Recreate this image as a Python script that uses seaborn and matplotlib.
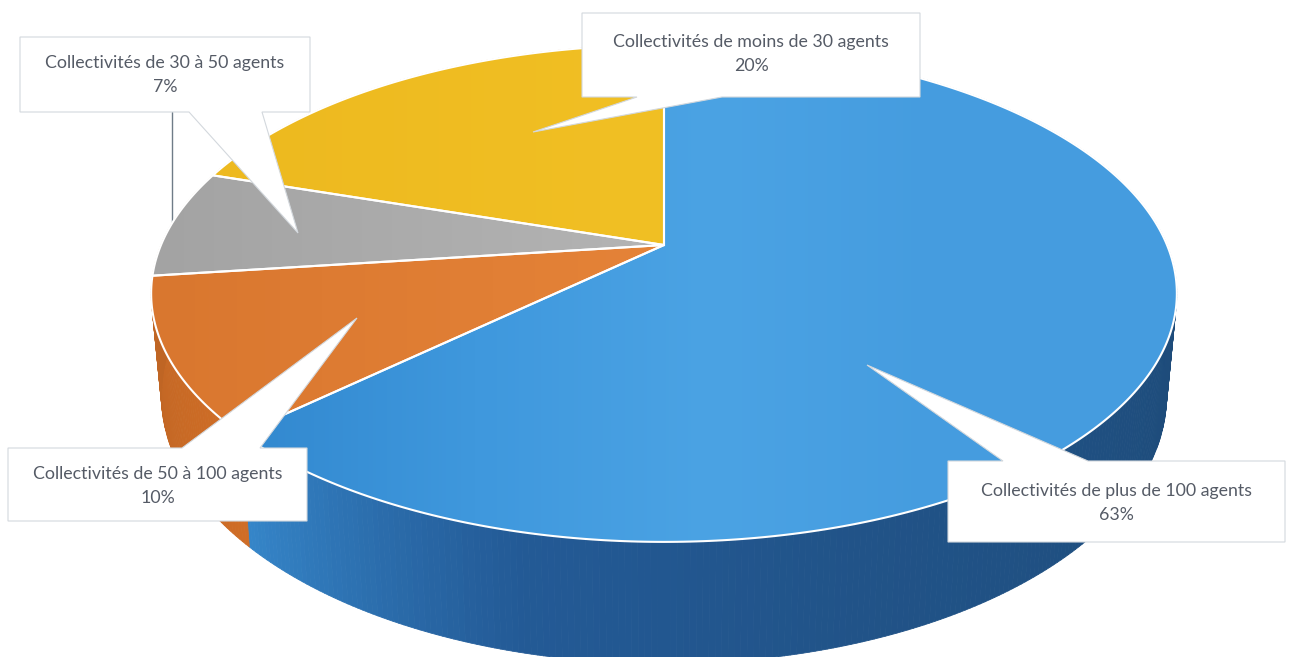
import numpy as np
import matplotlib
matplotlib.use("Agg")
import matplotlib.pyplot as plt
from matplotlib.collections import PolyCollection
from matplotlib.patches import Polygon
import seaborn as sns

categories = ["Collectivités de plus de 100 agents", "Collectivités de 50 à 100 agents",
              "Collectivités de 30 à 50 agents", "Collectivités de moins de 30 agents"]
values = [63, 10, 7, 20]

# top colours (left to right) and side colours (clockwise) for each slice
top_colors = [["#3288cf", "#3f98dd", "#4ba3e4", "#459cdf", "#459cdf"],
              ["#d9772f", "#e58338"],
              ["#a3a3a3", "#b4b4b4"],
              ["#edb91f", "#f1c024"]]
side_colors = [["#1d4a78", "#1d4a78", "#1d4a78", "#1d4a78", "#1f4f80", "#215388", "#235a96", "#3585c8"],
               ["#cf6d26", "#bf6524"],
               ["#bf6524", "#bf6524"],
               ["#bf6524", "#bf6524"]]

# box = left, top, right, bottom / pointer = tip, then the two points on the box edge
boxes = [(948, 461, 1285, 542), (8, 448, 307, 521), (20, 37, 310, 112), (582, 13, 920, 97)]
pointers = [((867, 365), 1003, 1088), ((357, 318), 182, 260), ((298, 233), 189, 262), ((533, 132), 637, 722)]
text_y = [503, 486, 75, 54]

sns.set_theme(style="white")
plt.rcParams["font.family"] = ["Lato", "DejaVu Sans"]

# perspective of the disc
cx, cy = 664, 245
A, B, k = 239, 503, 0.195
depth, shrink = 98, 0.98


def project(theta):
    u, v = np.sin(theta), np.cos(theta)
    w = 1 + k * v
    return cx + B * u / w, cy - A * v / w


def project_low(theta):
    x, y = project(theta)
    return cx + (x - cx) * shrink, y + depth / (1 + k * np.cos(theta))


fig = plt.figure(figsize=(12.9, 6.57), dpi=100)
ax = fig.add_axes([0, 0, 1, 1])
ax.set_xlim(0, 1290)
ax.set_ylim(657, 0)
ax.axis("off")

edges = np.cumsum([0] + values) / sum(values) * 2 * np.pi

# side of the cylinder first
for i in range(len(values)):
    n = values[i] * 6
    t = np.linspace(edges[i], edges[i + 1], n + 1)
    xa, ya = project(t)
    xb, yb = project_low(t)
    quads = [[(xa[j], ya[j]), (xa[j + 1], ya[j + 1]), (xb[j + 1], yb[j + 1]), (xb[j], yb[j])] for j in range(n)]
    pal = sns.blend_palette(side_colors[i], n_colors=n)
    ax.add_collection(PolyCollection(quads, facecolors=pal, edgecolors=pal, linewidths=0.6, zorder=1))

# top of each slice, gradient clipped to the wedge
for i in range(len(values)):
    t = np.linspace(edges[i], edges[i + 1], values[i] * 6 + 1)
    x, y = project(t)
    pts = np.column_stack([np.r_[cx, x], np.r_[cy, y]])
    grad = np.array(sns.blend_palette(top_colors[i], n_colors=256))[None, :, :3]
    im = ax.imshow(grad, extent=(pts[:, 0].min(), pts[:, 0].max(), 657, 0), aspect="auto", zorder=2)
    clip = Polygon(pts, closed=True, transform=ax.transData)
    im.set_clip_path(clip)
    ax.add_patch(Polygon(pts, closed=True, fill=False, edgecolor="white", linewidth=1.5, zorder=3))
ax.set_xlim(0, 1290)
ax.set_ylim(657, 0)

# thin leader line behind the 30-50 box
ax.plot([172, 172], [112, 222], color="#6f7c88", linewidth=1, zorder=1.5)

# callouts
for i in range(len(values)):
    l, t, r, b = boxes[i]
    tip, p1, p2 = pointers[i]
    if tip[1] > b:
        outline = [(l, t), (r, t), (r, b), (p2, b), tip, (p1, b), (l, b)]
    else:
        outline = [(l, t), (p1, t), tip, (p2, t), (r, t), (r, b), (l, b)]
    ax.add_patch(Polygon(outline, closed=True, facecolor="white", edgecolor="#d3d8dd", linewidth=0.8, zorder=4))
    ax.text((l + r) / 2, text_y[i], f"{categories[i]}\n{values[i]}%", ha="center", va="center",
            fontsize=12.8, color="#555b66", linespacing=1.6, zorder=5)

fig.savefig("out.png", dpi=100)
